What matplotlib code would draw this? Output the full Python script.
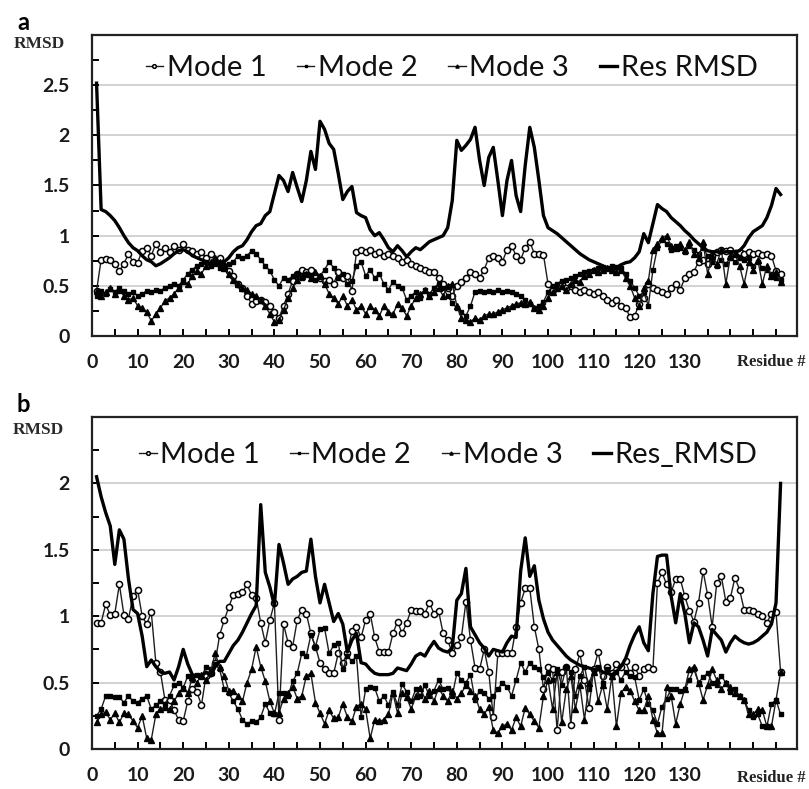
import numpy as np
import matplotlib
matplotlib.use('Agg')
import matplotlib.pyplot as plt
from matplotlib.ticker import MultipleLocator, FixedLocator

# residue index shared by both panels
residues = np.arange(1, 152)

# ---- panel a ----
a_mode1 = [0.45, 0.76, 0.77, 0.76, 0.72, 0.65, 0.72, 0.82, 0.74, 0.73,
           0.85, 0.88, 0.80, 0.92, 0.84, 0.88, 0.84, 0.90, 0.86, 0.92,
           0.86, 0.85, 0.82, 0.84, 0.78, 0.82, 0.74, 0.78, 0.70, 0.65,
           0.60, 0.52, 0.48, 0.40, 0.32, 0.35, 0.36, 0.34, 0.30, 0.24,
           0.18, 0.30, 0.42, 0.55, 0.62, 0.66, 0.64, 0.66, 0.60, 0.58,
           0.55, 0.56, 0.52, 0.64, 0.58, 0.60, 0.45, 0.84, 0.86, 0.84,
           0.86, 0.82, 0.84, 0.80, 0.82, 0.80, 0.78, 0.74, 0.76, 0.72,
           0.70, 0.68, 0.66, 0.64, 0.64, 0.58, 0.52, 0.48, 0.40, 0.50,
           0.54, 0.58, 0.64, 0.62, 0.58, 0.66, 0.78, 0.80, 0.78, 0.74,
           0.86, 0.90, 0.80, 0.76, 0.88, 0.94, 0.82, 0.82, 0.81, 0.52,
           0.46, 0.50, 0.52, 0.48, 0.50, 0.46, 0.44, 0.46, 0.44, 0.42,
           0.44, 0.40, 0.36, 0.33, 0.36, 0.30, 0.28, 0.19, 0.20, 0.32,
           0.38, 0.52, 0.48, 0.46, 0.44, 0.42, 0.48, 0.52, 0.46, 0.58,
           0.62, 0.64, 0.74, 0.76, 0.72, 0.80, 0.84, 0.86, 0.85, 0.86,
           0.83, 0.84, 0.82, 0.84, 0.82, 0.83, 0.81, 0.82, 0.80, 0.65,
           0.62]
a_mode2 = [0.40, 0.45, 0.42, 0.47, 0.44, 0.48, 0.45, 0.42, 0.44, 0.40,
           0.42, 0.45, 0.44, 0.46, 0.45, 0.48, 0.50, 0.52, 0.50, 0.56,
           0.62, 0.66, 0.70, 0.72, 0.74, 0.70, 0.72, 0.68, 0.70, 0.72,
           0.74, 0.80, 0.78, 0.80, 0.85, 0.82, 0.76, 0.70, 0.65, 0.56,
           0.50, 0.58, 0.56, 0.60, 0.62, 0.58, 0.62, 0.60, 0.56, 0.60,
           0.66, 0.74, 0.68, 0.58, 0.62, 0.52, 0.55, 0.70, 0.74, 0.60,
           0.66, 0.58, 0.62, 0.52, 0.46, 0.54, 0.50, 0.48, 0.36, 0.40,
           0.44, 0.38, 0.46, 0.42, 0.48, 0.52, 0.48, 0.40, 0.33, 0.28,
           0.24, 0.20, 0.30, 0.44, 0.45, 0.44, 0.45, 0.44, 0.46, 0.44,
           0.45, 0.44, 0.42, 0.40, 0.36, 0.32, 0.28, 0.30, 0.34, 0.44,
           0.50, 0.52, 0.55, 0.56, 0.58, 0.60, 0.62, 0.64, 0.65, 0.66,
           0.68, 0.69, 0.68, 0.70, 0.69, 0.68, 0.62, 0.55, 0.48, 0.40,
           0.44, 0.30, 0.66, 0.88, 0.96, 0.92, 0.86, 0.90, 0.88, 0.84,
           0.90, 0.86, 0.82, 0.88, 0.80, 0.74, 0.70, 0.76, 0.72, 0.78,
           0.74, 0.78, 0.76, 0.78, 0.70, 0.74, 0.68, 0.66, 0.62, 0.58,
           0.56]
a_mode3 = [0.45, 0.40, 0.44, 0.48, 0.42, 0.46, 0.40, 0.36, 0.38, 0.30,
           0.28, 0.24, 0.15, 0.22, 0.28, 0.35, 0.38, 0.42, 0.48, 0.55,
           0.52, 0.60, 0.65, 0.62, 0.70, 0.74, 0.78, 0.74, 0.68, 0.62,
           0.56, 0.52, 0.48, 0.46, 0.42, 0.40, 0.36, 0.30, 0.22, 0.14,
           0.16, 0.26, 0.38, 0.48, 0.56, 0.60, 0.62, 0.58, 0.64, 0.60,
           0.52, 0.42, 0.38, 0.32, 0.40, 0.30, 0.36, 0.26, 0.30, 0.22,
           0.30, 0.26, 0.20, 0.30, 0.24, 0.22, 0.32, 0.28, 0.20, 0.30,
           0.38, 0.42, 0.46, 0.40, 0.44, 0.48, 0.40, 0.50, 0.52, 0.30,
           0.18, 0.16, 0.14, 0.18, 0.16, 0.20, 0.22, 0.22, 0.24, 0.26,
           0.28, 0.30, 0.32, 0.33, 0.32, 0.34, 0.28, 0.26, 0.30, 0.38,
           0.44, 0.48, 0.50, 0.46, 0.52, 0.56, 0.54, 0.60, 0.62, 0.66,
           0.64, 0.66, 0.68, 0.66, 0.64, 0.66, 0.58, 0.50, 0.38, 0.30,
           0.48, 0.55, 0.86, 0.92, 0.98, 1.00, 0.90, 0.88, 0.92, 0.86,
           0.94, 0.82, 0.78, 0.94, 0.62, 0.80, 0.72, 0.86, 0.52, 0.80,
           0.82, 0.70, 0.52, 0.74, 0.66, 0.76, 0.52, 0.70, 0.60, 0.64,
           0.54]
a_res = [2.52, 1.26, 1.24, 1.20, 1.15, 1.08, 1.00, 0.93, 0.88, 0.85,
         0.80, 0.76, 0.74, 0.70, 0.72, 0.75, 0.78, 0.82, 0.85, 0.86,
         0.84, 0.80, 0.78, 0.76, 0.74, 0.72, 0.74, 0.72, 0.74, 0.78,
         0.84, 0.88, 0.90, 0.96, 1.04, 1.10, 1.12, 1.20, 1.24, 1.42,
         1.60, 1.55, 1.44, 1.63, 1.48, 1.34, 1.55, 1.84, 1.66, 2.14,
         2.06, 1.92, 1.86, 1.62, 1.36, 1.44, 1.49, 1.23, 1.20, 1.18,
         1.06, 1.00, 1.03, 0.96, 0.88, 0.84, 0.90, 0.85, 0.79, 0.84,
         0.88, 0.86, 0.90, 0.94, 0.96, 0.98, 1.00, 1.08, 1.35, 1.95,
         1.85, 1.90, 1.96, 2.08, 1.75, 1.50, 1.78, 1.88, 1.55, 1.20,
         1.55, 1.75, 1.40, 1.24, 1.70, 2.08, 1.88, 1.55, 1.20, 1.08,
         1.05, 1.02, 0.98, 0.94, 0.90, 0.86, 0.82, 0.79, 0.76, 0.74,
         0.72, 0.70, 0.67, 0.66, 0.68, 0.71, 0.73, 0.74, 0.78, 0.84,
         1.02, 0.93, 1.12, 1.31, 1.27, 1.24, 1.18, 1.14, 1.10, 1.05,
         1.01, 0.96, 0.92, 0.88, 0.85, 0.84, 0.84, 0.83, 0.84, 0.84,
         0.84, 0.85, 0.90, 0.98, 1.04, 1.07, 1.10, 1.18, 1.30, 1.47,
         1.41]

# ---- panel b ----
b_mode1 = [0.95, 0.95, 1.09, 1.01, 1.02, 1.24, 1.01, 0.98, 1.15, 1.20,
           1.00, 0.94, 1.03, 0.65, 0.58, 0.37, 0.37, 0.29, 0.22, 0.21,
           0.36, 0.45, 0.43, 0.33, 0.55, 0.57, 0.65, 0.86, 0.97, 1.07,
           1.16, 1.17, 1.18, 1.24, 1.16, 1.14, 0.95, 0.80, 0.97, 1.10,
           0.22, 0.94, 0.80, 0.77, 0.97, 1.05, 1.02, 0.87, 0.77, 0.65,
           0.60, 0.57, 0.57, 0.72, 0.65, 0.72, 0.89, 0.92, 0.84, 0.97,
           1.02, 0.84, 0.73, 0.73, 0.73, 0.87, 0.96, 0.87, 0.95, 1.05,
           1.04, 1.04, 1.02, 1.10, 1.02, 1.04, 0.87, 0.82, 0.72, 0.78,
           0.84, 1.11, 0.82, 0.61, 0.60, 0.75, 0.58, 0.24, 0.72, 0.72,
           0.72, 0.72, 0.92, 1.10, 1.21, 1.21, 0.92, 0.75, 0.45, 0.62,
           0.60, 0.14, 0.58, 0.62, 0.18, 0.60, 0.72, 0.52, 0.31, 0.60,
           0.73, 0.55, 0.62, 0.57, 0.64, 0.62, 0.66, 0.57, 0.62, 0.55,
           0.60, 0.62, 0.60, 1.25, 1.33, 1.24, 1.18, 1.28, 1.28, 1.15,
           1.04, 0.96, 1.10, 1.34, 1.16, 0.92, 1.25, 1.30, 1.11, 1.14,
           1.29, 1.20, 1.05, 1.05, 1.04, 1.02, 1.00, 0.95, 1.02, 1.03,
           0.58]
b_mode2 = [0.25, 0.30, 0.40, 0.40, 0.39, 0.39, 0.35, 0.40, 0.36, 0.35,
           0.38, 0.40, 0.30, 0.33, 0.36, 0.34, 0.40, 0.48, 0.50, 0.46,
           0.55, 0.52, 0.56, 0.54, 0.62, 0.60, 0.64, 0.60, 0.45, 0.42,
           0.36, 0.30, 0.22, 0.19, 0.21, 0.20, 0.24, 0.34, 0.27, 0.26,
           0.42, 0.42, 0.40, 0.51, 0.57, 0.72, 0.70, 0.86, 0.77, 0.90,
           0.91, 0.72, 0.78, 0.80, 0.60, 0.70, 0.66, 0.70, 0.24, 0.45,
           0.47, 0.46, 0.36, 0.40, 0.33, 0.43, 0.33, 0.49, 0.43, 0.36,
           0.45, 0.40, 0.48, 0.40, 0.44, 0.52, 0.45, 0.46, 0.40, 0.57,
           0.52, 0.50, 0.56, 0.37, 0.44, 0.42, 0.38, 0.40, 0.45, 0.50,
           0.47, 0.40, 0.52, 0.65, 0.58, 0.65, 0.62, 0.60, 0.54, 0.57,
           0.52, 0.60, 0.48, 0.62, 0.58, 0.40, 0.55, 0.62, 0.45, 0.58,
           0.62, 0.50, 0.60, 0.54, 0.58, 0.52, 0.58, 0.55, 0.54, 0.37,
           0.45, 0.34, 0.29, 0.19, 0.32, 0.38, 0.45, 0.45, 0.44, 0.45,
           0.52, 0.60, 0.50, 0.54, 0.57, 0.50, 0.48, 0.55, 0.50, 0.43,
           0.45, 0.40, 0.37, 0.29, 0.24, 0.26, 0.17, 0.17, 0.34, 0.37,
           0.26]
b_mode3 = [0.20, 0.26, 0.28, 0.22, 0.27, 0.20, 0.27, 0.26, 0.21, 0.16,
           0.25, 0.08, 0.07, 0.26, 0.30, 0.32, 0.30, 0.36, 0.42, 0.46,
           0.42, 0.54, 0.50, 0.56, 0.52, 0.58, 0.72, 0.62, 0.55, 0.44,
           0.44, 0.40, 0.36, 0.50, 0.60, 0.77, 0.62, 0.51, 0.36, 0.27,
           0.27, 0.38, 0.42, 0.47, 0.38, 0.40, 0.55, 0.57, 0.35, 0.27,
           0.19, 0.29, 0.23, 0.24, 0.34, 0.24, 0.21, 0.32, 0.34, 0.30,
           0.08, 0.22, 0.21, 0.22, 0.26, 0.42, 0.27, 0.42, 0.39, 0.30,
           0.40, 0.46, 0.38, 0.44, 0.36, 0.46, 0.40, 0.36, 0.44, 0.38,
           0.42, 0.48, 0.44, 0.40, 0.30, 0.26, 0.32, 0.14, 0.12, 0.17,
           0.19, 0.14, 0.24, 0.17, 0.31, 0.26, 0.21, 0.16, 0.40, 0.52,
           0.30, 0.58, 0.20, 0.45, 0.55, 0.30, 0.48, 0.22, 0.50, 0.58,
           0.36, 0.48, 0.30, 0.55, 0.17, 0.42, 0.47, 0.44, 0.36, 0.29,
           0.29, 0.40, 0.22, 0.12, 0.12, 0.47, 0.40, 0.19, 0.34, 0.45,
           0.60, 0.62, 0.50, 0.37, 0.48, 0.60, 0.52, 0.45, 0.50, 0.47,
           0.42, 0.40, 0.37, 0.26, 0.26, 0.30, 0.29, 0.17, 0.17, 0.37,
           0.58]
b_res = [2.05, 1.90, 1.78, 1.68, 1.39, 1.65, 1.58, 1.28, 1.05, 1.02,
         0.85, 0.62, 0.67, 0.62, 0.58, 0.57, 0.58, 0.52, 0.62, 0.75,
         0.64, 0.56, 0.55, 0.55, 0.58, 0.55, 0.62, 0.66, 0.66, 0.72,
         0.78, 0.82, 0.88, 0.95, 1.02, 1.08, 1.84, 1.33, 1.22, 1.08,
         1.54, 1.40, 1.24, 1.28, 1.30, 1.33, 1.34, 1.58, 1.30, 1.10,
         1.24, 1.10, 0.96, 1.02, 0.94, 0.73, 0.82, 0.87, 0.65, 0.64,
         0.60, 0.57, 0.56, 0.56, 0.56, 0.57, 0.61, 0.60, 0.59, 0.64,
         0.70, 0.72, 0.70, 0.76, 0.81, 0.76, 0.74, 0.73, 0.76, 1.12,
         1.17, 1.36, 0.92, 0.86, 0.80, 0.76, 0.70, 0.75, 0.74, 0.73,
         0.80, 0.85, 0.84, 1.34, 1.59, 1.30, 1.38, 1.12, 0.98, 0.88,
         0.82, 0.78, 0.74, 0.70, 0.67, 0.65, 0.63, 0.62, 0.61, 0.60,
         0.60, 0.58, 0.57, 0.56, 0.58, 0.62, 0.68, 0.78, 0.86, 0.92,
         0.80, 0.74, 1.17, 1.45, 1.46, 1.46, 1.15, 0.95, 1.17, 1.02,
         0.80, 0.95, 0.92, 0.82, 0.70, 0.90, 0.86, 0.82, 0.73, 0.80,
         0.85, 0.82, 0.80, 0.79, 0.80, 0.82, 0.85, 0.88, 0.94, 1.10,
         2.00]

x_ticklabels = [str(v) for v in range(0, 140, 10)]

SANS = 'Lato'
SERIF = 'Liberation Serif'


def draw_panel(ax, mode1, mode2, mode3, res, ymax, res_name, leg_x, leg_y):
    ax.plot(residues, mode1, color='#1e1e1e', lw=1.0, marker='o', ms=4.4,
            mfc='white', mec='black', mew=1.1, label='Mode 1', zorder=3)
    ax.plot(residues, mode2, color='#1e1e1e', lw=1.0, marker='s', ms=3.0,
            mfc='black', mec='black', label='Mode 2', zorder=3)
    ax.plot(residues, mode3, color='#1e1e1e', lw=1.0, marker='^', ms=3.8,
            mfc='black', mec='black', label='Mode 3', zorder=3)
    ax.plot(residues, res, color='black', lw=2.4, label=res_name, zorder=4)

    ax.set_xlim(0, 154.6)
    ax.set_ylim(0, ymax)

    # grid only at labelled levels
    for g in np.arange(0.5, ymax, 0.5):
        ax.axhline(g, color='#cfcfcf', lw=1.3, zorder=1)

    ax.xaxis.set_major_locator(FixedLocator(range(0, 140, 10)))
    ax.set_xticklabels(x_ticklabels)
    ax.xaxis.set_minor_locator(FixedLocator(range(0, 155, 5)))
    yt = np.arange(0, ymax - 0.25, 0.5)
    ax.set_yticks(yt)
    ax.set_yticklabels(['%g' % v for v in yt])
    ax.yaxis.set_minor_locator(MultipleLocator(0.25))

    ax.tick_params(axis='both', which='both', direction='in', width=1.4,
                   length=5, colors='black')
    ax.tick_params(axis='x', which='major', pad=13)
    ax.tick_params(axis='y', which='major', pad=16)
    for lab in ax.get_xticklabels() + ax.get_yticklabels():
        lab.set_fontfamily(SANS)
        lab.set_fontweight('bold')
        lab.set_fontsize(14)
        lab.set_color('#1a1a1a')

    for sp in ax.spines.values():
        sp.set_linewidth(1.6)
        sp.set_color('#222222')

    leg = ax.legend(loc='center', bbox_to_anchor=(leg_x, leg_y), ncol=4,
                    frameon=False, handlelength=0.6, handletextpad=0.12,
                    columnspacing=1.05, markerscale=0.6,
                    prop={'family': SANS, 'size': 21})
    for t in leg.get_texts():
        t.set_color('#111111')

    ax.text(1.012, -0.088, 'Residue #', transform=ax.transAxes, ha='right',
            va='center', family=SERIF, fontweight='bold', fontsize=12, color='#222222')


fig = plt.figure(figsize=(8.09, 7.89), dpi=100)
ax_a = fig.add_axes([92 / 809, 1 - 336 / 789, 705 / 809, 301 / 789])
ax_b = fig.add_axes([92 / 809, 1 - 749 / 789, 705 / 809, 332 / 789])

draw_panel(ax_a, a_mode1, a_mode2, a_mode3, a_res, 3.0, 'Res RMSD', 0.51, 0.89)
draw_panel(ax_b, b_mode1, b_mode2, b_mode3, b_res, 2.5, 'Res_RMSD', 0.505, 0.886)

# panel letters and y-axis captions
fig.text(17 / 809, 1 - 22 / 789, 'a', family=SANS, fontweight='bold', fontsize=17,
         va='center', ha='left')
fig.text(17 / 809, 1 - 405 / 789, 'b', family=SANS, fontweight='bold', fontsize=17,
         va='center', ha='left')
fig.text(14 / 809, 1 - 44 / 789, 'RMSD', family=SERIF, fontweight='bold', fontsize=12.5,
         va='center', ha='left', color='#2a2a2a')
fig.text(13 / 809, 1 - 430 / 789, 'RMSD', family=SERIF, fontweight='bold', fontsize=12.5,
         va='center', ha='left', color='#2a2a2a')

fig.savefig('out.png', dpi=100)
